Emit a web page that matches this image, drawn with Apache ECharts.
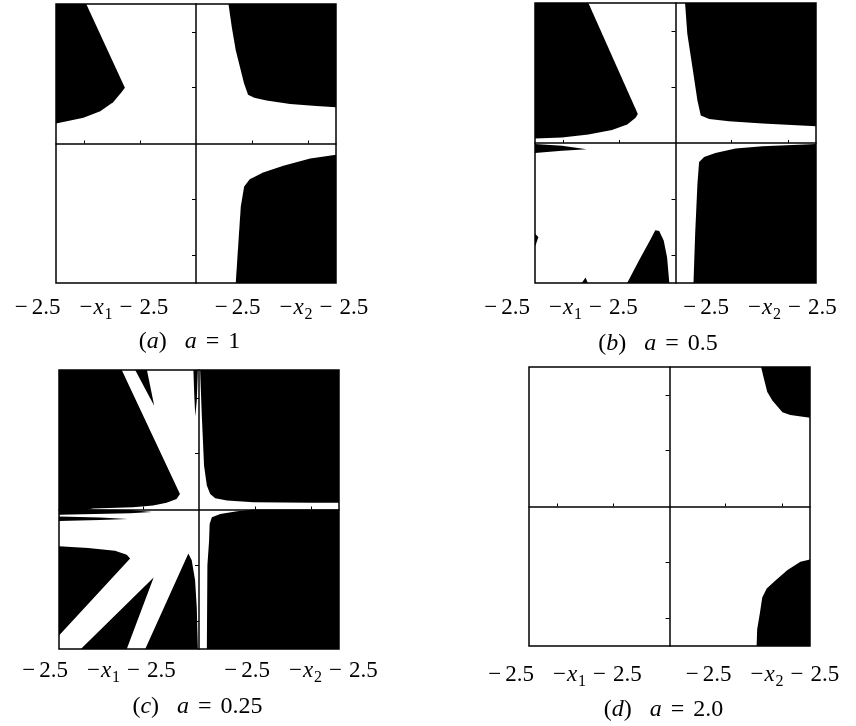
<!DOCTYPE html>
<html>
<head>
<meta charset="utf-8">
<script src="https://cdn.jsdelivr.net/npm/echarts@6/dist/echarts.min.js"></script>
<style>
html, body { margin: 0; padding: 0; background: #fff; }
#main { width: 856px; height: 726px; }
</style>
</head>
<body>
<div id="main"></div>
<script>
// axis range and tick marks (same for all four panels)
var axisMin = -2.5, axisMax = 2.5;
var tickValues = [-2, -1, 1, 2];

// (a) a = 1 : black regions, vertices in (x1, x2)
var aTopLeft = [[-2.5, 2.5], [-1.96, 2.5], [-1.27, 1.0], [-1.33, 0.92], [-1.48, 0.74], [-1.71, 0.58], [-2.01, 0.46], [-2.5, 0.36]];
var aTopRight = [[0.58, 2.5], [0.64, 2.08], [0.71, 1.67], [0.86, 1.07], [0.93, 0.875], [1.04, 0.82], [1.26, 0.77], [1.68, 0.71], [2.15, 0.67], [2.5, 0.65], [2.5, 2.5]];
var aBottomRight = [[2.5, -0.20], [2.04, -0.27], [1.56, -0.40], [1.20, -0.52], [0.96, -0.64], [0.86, -0.77], [0.80, -1.13], [0.76, -1.73], [0.71, -2.5], [2.5, -2.5]];

// (b) a = 0.5
var bTopLeft = [[-2.5, 2.5], [-1.55, 2.5], [-0.67, 0.52], [-0.71, 0.45], [-0.86, 0.33], [-1.13, 0.23], [-1.55, 0.15], [-2.02, 0.10], [-2.5, 0.08]];
var bTopRight = [[0.17, 2.5], [0.21, 1.95], [0.30, 1.36], [0.39, 0.76], [0.45, 0.49], [0.60, 0.43], [0.95, 0.39], [1.55, 0.35], [2.5, 0.30], [2.5, 2.5]];
var bBottomRight = [[2.5, -0.02], [1.55, -0.06], [1.07, -0.10], [0.71, -0.18], [0.51, -0.25], [0.42, -0.34], [0.39, -0.73], [0.35, -1.62], [0.32, -2.5], [2.5, -2.5]];
var bLeftSliver = [[-2.5, -0.02], [-2.02, -0.05], [-1.58, -0.11], [-2.02, -0.14], [-2.5, -0.18]];
var bBottomSpike = [[-0.86, -2.5], [-0.65, -2.10], [-0.45, -1.73], [-0.36, -1.56], [-0.29, -1.57], [-0.21, -1.74], [-0.15, -2.04], [-0.11, -2.5]];
var bEdgeBit = [[-2.5, -1.62], [-2.44, -1.68], [-2.49, -1.83], [-2.5, -1.83]];
var bFloorBit = [[-1.67, -2.5], [-1.60, -2.40], [-1.56, -2.5]];

// (c) a = 0.25 : mostly black, white star on top, black slivers on top of that
var cSquare = [[-2.5, -2.5], [2.5, -2.5], [2.5, 2.5], [-2.5, 2.5]];
var cWhite = [[-1.38, 2.5], [0.02, 2.5], [0.05, 1.69], [0.09, 0.79], [0.14, 0.43], [0.20, 0.28], [0.29, 0.20], [0.50, 0.16],
  [0.97, 0.13], [2.0, 0.12], [2.5, 0.12], [2.5, 0], [0.98, 0], [0.68, -0.03], [0.38, -0.08], [0.23, -0.14], [0.19, -0.26],
  [0.18, -0.56], [0.15, -1.0], [0.14, -2.5], [-0.02, -2.5], [-0.04, -1.75], [-0.07, -1.27], [-0.13, -0.91], [-0.19, -0.79],
  [-0.96, -2.5], [-1.29, -2.5], [-0.81, -1.22], [-2.11, -2.5], [-2.5, -2.5], [-2.5, -2.26], [-1.23, -0.88], [-1.29, -0.81],
  [-1.5, -0.74], [-1.98, -0.69], [-2.5, -0.66], [-2.5, -0.09], [-1.89, 0.02], [-1.18, 0.04], [-0.82, 0.07], [-0.58, 0.12],
  [-0.40, 0.19], [-0.34, 0.28]];
var cSliver1 = [[-2.5, 0.027], [-1.89, 0], [-1.23, -0.01], [-0.84, -0.045], [-1.23, -0.068], [-2.5, -0.095]];
var cSliver2 = [[-2.5, -0.125], [-1.77, -0.143], [-1.27, -0.17], [-1.77, -0.188], [-2.5, -0.206]];
var cWedge = [[-1.14, 2.5], [-0.93, 2.5], [-0.80, 1.86]];
var cAxisSliver = [[-0.10, 2.5], [-0.02, 2.5], [-0.04, 1.95], [-0.066, 1.67], [-0.084, 2.04]];

// (d) a = 2.0
var dTopRight = [[1.63, 2.5], [1.68, 2.29], [1.74, 2.05], [1.83, 1.90], [2.01, 1.69], [2.15, 1.64], [2.5, 1.59], [2.5, 2.5]];
var dBottomRight = [[2.5, -0.95], [2.33, -0.99], [2.10, -1.14], [1.89, -1.32], [1.73, -1.47], [1.65, -1.63], [1.61, -1.90], [1.56, -2.20], [1.55, -2.5], [2.5, -2.5]];

var captions = ['({c|a})   {c|a} {eq|=} 1', '({c|b})   {c|a} {eq|=} 0.5', '({c|c})   {c|a} {eq|=} 0.25', '({c|d})   {c|a} {eq|=} 2.0'];
var leftLabel = '{u|−}2.5{gap| }{v|−}{i|x}{s|1}{b|−}2.5';
var rightLabel = '{u|−}2.5{gap| }{v|−}{i|x}{s|2}{b|−}2.5';

var panels = [
    {grid: {left: 56, top: 4, width: 280, height: 279}, shapes: [[aTopLeft, '#000'], [aTopRight, '#000'], [aBottomRight, '#000']],
     lx: 91.5, rx: 291.5, ly: 308, cx: 189.5, cy: 342},
    {grid: {left: 535, top: 3, width: 281, height: 280}, shapes: [[bTopLeft, '#000'], [bTopRight, '#000'], [bBottomRight, '#000'], [bLeftSliver, '#000'], [bBottomSpike, '#000'], [bEdgeBit, '#000'], [bFloorBit, '#000']],
     lx: 561, rx: 760, ly: 308, cx: 658, cy: 344},
    {grid: {left: 59, top: 370, width: 280, height: 279}, shapes: [[cSquare, '#000'], [cWhite, '#fff'], [cSliver1, '#000'], [cSliver2, '#000'], [cWedge, '#000'], [cAxisSliver, '#000']],
     lx: 99, rx: 301, ly: 671, cx: 197.5, cy: 707},
    {grid: {left: 529, top: 367, width: 281, height: 279}, shapes: [[dTopRight, '#000'], [dBottomRight, '#000']],
     lx: 565, rx: 762.5, ly: 675, cx: 663.5, cy: 710}
];

var serif = 'Liberation Serif';
var rich = {
    i: {fontFamily: serif, fontSize: 23, fontStyle: 'italic', lineHeight: 30, padding: [0, 1, 0, 0]},
    s: {fontFamily: serif, fontSize: 16, lineHeight: 16, verticalAlign: 'bottom'},
    u: {fontFamily: serif, fontSize: 23, lineHeight: 30, padding: [0, 4, 0, 0]},
    v: {fontFamily: serif, fontSize: 23, lineHeight: 30, padding: [0, 1, 0, 0]},
    b: {fontFamily: serif, fontSize: 23, lineHeight: 30, padding: [0, 7, 0, 7]},
    gap: {fontFamily: serif, fontSize: 23, lineHeight: 30, width: 19},
    c: {fontFamily: serif, fontSize: 24, fontStyle: 'italic', lineHeight: 30},
    eq: {fontFamily: serif, fontSize: 24, lineHeight: 30, padding: [0, 3, 0, 3]}
};

function textItem(x, y, text, size) {
    return {
        type: 'text', x: x, y: y, silent: true,
        style: {text: text, fill: '#000', fontFamily: serif, fontSize: size, lineHeight: 30,
                align: 'center', verticalAlign: 'middle', rich: rich}
    };
}

var grids = [], xAxes = [], yAxes = [], series = [], graphics = [];
for (var i = 0; i < panels.length; i++) {
    var p = panels[i];
    var g = p.grid;
    g.show = true;
    g.borderColor = '#000';
    g.borderWidth = 1.5;
    g.z = 10;
    grids.push(g);
    xAxes.push({
        type: 'value', gridIndex: i, min: axisMin, max: axisMax, z: 10,
        axisLine: {show: true, onZero: true, lineStyle: {color: '#000', width: 1.5}},
        axisTick: {show: true, customValues: tickValues, inside: true, length: 3, lineStyle: {color: '#000', width: 1}},
        axisLabel: {show: false}, splitLine: {show: false}
    });
    yAxes.push({
        type: 'value', gridIndex: i, min: axisMin, max: axisMax, z: 10,
        axisLine: {show: true, onZero: true, lineStyle: {color: '#000', width: 1.5}},
        axisTick: {show: true, customValues: tickValues, inside: false, length: 4, lineStyle: {color: '#000', width: 1}},
        axisLabel: {show: false}, splitLine: {show: false}
    });
    (function (shapes) {
        series.push({
            type: 'custom', xAxisIndex: i, yAxisIndex: i, silent: true, animation: false,
            data: shapes.map(function (s, k) { return [s[0][0][0], s[0][0][1], k]; }),
            renderItem: function (params, api) {
                var s = shapes[params.dataIndex];
                var pts = s[0].map(function (pt) { return api.coord(pt); });
                return {type: 'polygon', shape: {points: pts}, style: {fill: s[1], stroke: null}};
            }
        });
    })(p.shapes);
    graphics.push(textItem(p.lx, p.ly, leftLabel, 23));
    graphics.push(textItem(p.rx, p.ly, rightLabel, 23));
    graphics.push(textItem(p.cx, p.cy, captions[i], 24));
}

var myChart = echarts.init(document.getElementById('main'));
myChart.setOption({
    animation: false,
    grid: grids,
    xAxis: xAxes,
    yAxis: yAxes,
    series: series,
    graphic: graphics
});
</script>
</body>
</html>
